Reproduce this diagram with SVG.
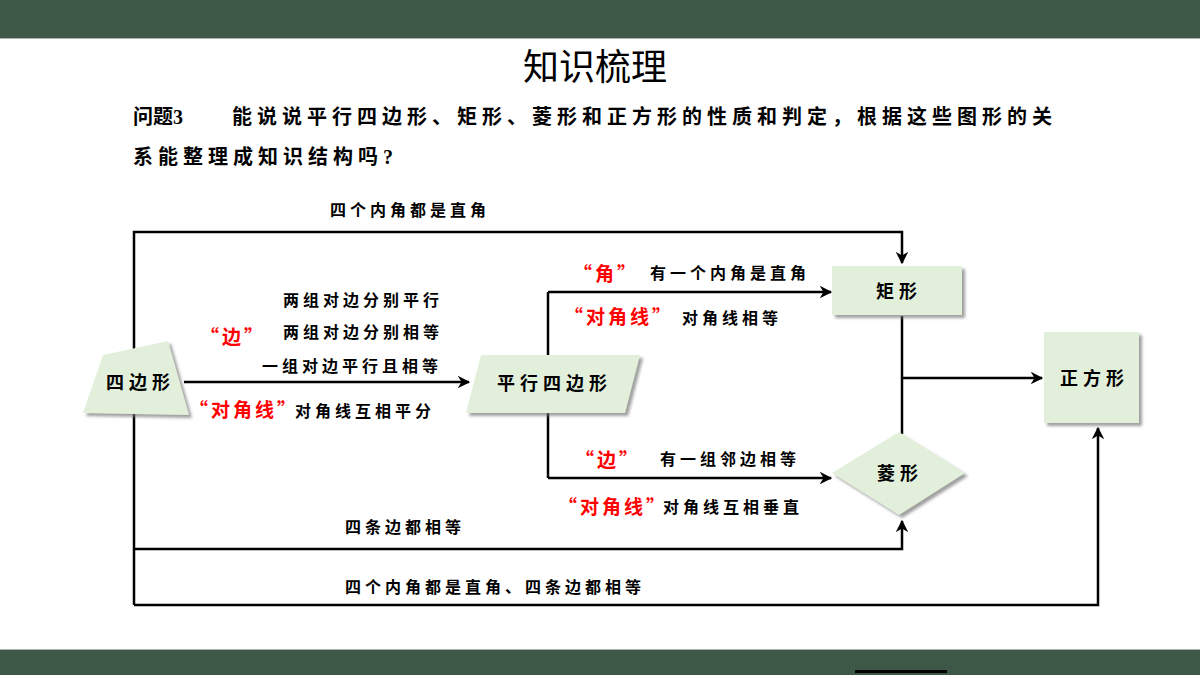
<svg xmlns="http://www.w3.org/2000/svg" width="1200" height="675" viewBox="0 0 1200 675">
<style>
.bar{fill:#3d5846}
.q{font-family:"Liberation Serif","Noto Sans CJK SC",serif;font-weight:bold;font-size:20px;fill:#000;letter-spacing:5px}
.lbl{font-family:"Noto Sans CJK SC",sans-serif;font-weight:bold;font-size:16px;fill:#000;letter-spacing:4px}
.red{font-family:"Noto Sans CJK SC",sans-serif;font-weight:bold;font-size:19px;fill:#ff0000;letter-spacing:3px}
.nt{font-family:"Noto Sans CJK SC",sans-serif;font-weight:bold;font-size:18px;fill:#000;letter-spacing:5px}
.shape{fill:#e2efda;filter:url(#sh)}
.ln{fill:none;stroke:#000;stroke-width:2.5}
.ar{marker-end:url(#arr)}
</style>
<defs>
<filter id="sh" x="-20%" y="-20%" width="140%" height="150%">
<feDropShadow dx="3" dy="3" stdDeviation="1.5" flood-color="#777" flood-opacity="0.7"/>
</filter>
<marker id="arr" viewBox="0 0 10 10" refX="9" refY="5" markerWidth="5" markerHeight="5" orient="auto" markerUnits="strokeWidth">
<path d="M0,0 L10,5 L0,10 L3,5 Z" fill="#000"/>
</marker>
</defs>
<rect width="1200" height="675" fill="#fff"/>
<rect class="bar" x="0" y="0" width="1200" height="38"/>
<line x1="0" y1="38.5" x2="1200" y2="38.5" stroke="#a9b5ac" stroke-width="1"/>
<rect class="bar" x="0" y="650" width="1200" height="25"/>
<line x1="0" y1="649.5" x2="1200" y2="649.5" stroke="#a9b5ac" stroke-width="1"/>
<rect x="855" y="670" width="92" height="3" fill="#000"/>
<text x="595" y="80" text-anchor="middle" font-family="Noto Sans CJK SC, sans-serif" font-size="36" fill="#000">知识梳理</text>
<text class="q" x="133" y="124" style="letter-spacing:0">问题3</text>
<text class="q" x="232" y="124">能说说平行四边形、矩形、菱形和正方形的性质和判定，根据这些图形的关</text>
<text class="q" x="133" y="164">系能整理成知识结构吗?</text>
<g id="connectors">
<path class="ln ar" d="M134,605 V232 H902 V263"/>
<path class="ln ar" d="M134,549 H902 V521"/>
<path class="ln ar" d="M134,605 H1098 V428"/>
<path class="ln ar" d="M184,382 H469"/>
<path class="ln" d="M548,292 V478"/>
<path class="ln ar" d="M548,292 H831"/>
<path class="ln ar" d="M548,478 H831"/>
<path class="ln" d="M902,316 V434"/>
<path class="ln ar" d="M902,378 H1042"/>
</g>
<g id="n-quad">
<polygon class="shape" points="103,355 168,341 189,415 83,413"/>
<text class="nt" x="106" y="389">四边形</text>
</g>
<g id="n-para">
<polygon class="shape" points="481,355 640,355 625,413 466,413"/>
<text class="nt" x="497" y="390">平行四边形</text>
</g>
<g id="n-rect">
<rect class="shape" x="832" y="266" width="130" height="49"/>
<text class="nt" x="876" y="298">矩形</text>
</g>
<g id="n-rhombus">
<polygon class="shape" points="899,432 965,473 899,515 832,473"/>
<text class="nt" x="877" y="480">菱形</text>
</g>
<g id="n-square">
<rect class="shape" x="1044" y="332" width="95" height="91"/>
<text class="nt" x="1060" y="385">正方形</text>
</g>
<g id="labels">
<text class="lbl" x="330" y="216">四个内角都是直角</text>
<text class="lbl" x="283" y="306">两组对边分别平行</text>
<text class="lbl" x="283" y="338">两组对边分别相等</text>
<text class="lbl" x="262" y="372">一组对边平行且相等</text>
<text class="lbl" x="295" y="417">对角线互相平分</text>
<text class="lbl" x="650" y="279">有一个内角是直角</text>
<text class="lbl" x="682" y="324">对角线相等</text>
<text class="lbl" x="660" y="465">有一组邻边相等</text>
<text class="lbl" x="663" y="513">对角线互相垂直</text>
<text class="lbl" x="345" y="533">四条边都相等</text>
<text class="lbl" x="345" y="593">四个内角都是直角、四条边都相等</text>
<text class="red" x="200" y="344">“边”</text>
<text class="red" x="189" y="417">“对角线”</text>
<text class="red" x="573" y="281">“角”</text>
<text class="red" x="564" y="324">“对角线”</text>
<text class="red" x="575" y="467">“边”</text>
<text class="red" x="558" y="514">“对角线”</text>
</g>
</svg>
